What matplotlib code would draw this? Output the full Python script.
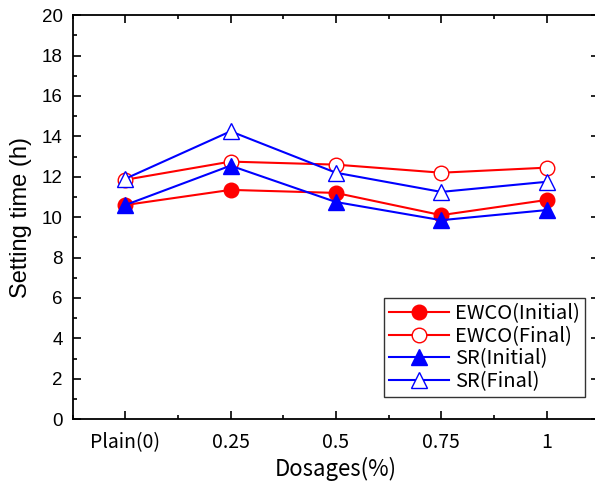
import matplotlib
matplotlib.use('Agg')
import matplotlib.pyplot as plt
from matplotlib.ticker import MultipleLocator

# data
categories = ['Plain(0)', '0.25', '0.5', '0.75', '1']
ewco_initial = [10.6, 11.35, 11.2, 10.1, 10.85]
ewco_final = [11.85, 12.75, 12.6, 12.2, 12.45]
sr_initial = [10.6, 12.55, 10.75, 9.85, 10.35]
sr_final = [11.9, 14.25, 12.2, 11.25, 11.75]

KR = ['Noto Sans CJK KR', 'DejaVu Sans']
AR = ['Liberation Sans', 'DejaVu Sans']

fig = plt.figure(figsize=(5.95, 4.88), dpi=100)
ax = fig.add_axes([0.122, 0.141, 0.885, 0.828])

x = list(range(len(categories)))
ax.plot(x, ewco_initial, '-o', color='#ff0000', lw=1.5, ms=10.5,
        mfc='#ff0000', mec='#ff0000', label='EWCO(Initial)')
ax.plot(x, ewco_final, '-o', color='#ff0000', lw=1.5, ms=10.5,
        mfc='white', mec='#ff0000', mew=1.0, label='EWCO(Final)')
ax.plot(x, sr_initial, '-^', color='#0000ff', lw=1.5, ms=11,
        mfc='#0000ff', mec='#0000ff', label='SR(Initial)')
ax.plot(x, sr_final, '-^', color='#0000ff', lw=1.5, ms=11,
        mfc='white', mec='#0000ff', mew=1.0, label='SR(Final)')

ax.set_xlim(-0.5, 4.5)
ax.set_ylim(0, 20)
ax.set_xticks(x)
ax.set_xticklabels(categories, fontfamily=KR, fontsize=14)
ax.xaxis.set_minor_locator(MultipleLocator(0.5))
ax.yaxis.set_major_locator(MultipleLocator(2))
ax.yaxis.set_minor_locator(MultipleLocator(1))
for lab in ax.get_yticklabels():
    lab.set_fontfamily(AR)
    lab.set_fontsize(13.5)

ax.tick_params(which='both', direction='in', top=True, right=True, width=1.2)
ax.tick_params(which='major', length=6)
ax.tick_params(axis='x', which='major', pad=9)
ax.tick_params(axis='y', which='major', pad=7)
ax.tick_params(which='minor', length=3)
for s in ax.spines.values():
    s.set_linewidth(1.3)

ax.set_xlabel('Dosages(%)', fontfamily=KR, fontsize=16, labelpad=3)
ax.set_ylabel('Setting time (h)', fontfamily=AR, fontsize=17, labelpad=7)

leg = ax.legend(loc='lower right', bbox_to_anchor=(585 / 595, 1 - 397 / 488),
                bbox_transform=fig.transFigure, borderaxespad=0,
                prop={'family': KR, 'size': 14.5},
                frameon=True, fancybox=False, edgecolor='black', handlelength=3.0,
                borderpad=0.25, labelspacing=0.08, handletextpad=0.3)
leg.get_frame().set_linewidth(1.0)

fig.savefig('out.png', dpi=100)
